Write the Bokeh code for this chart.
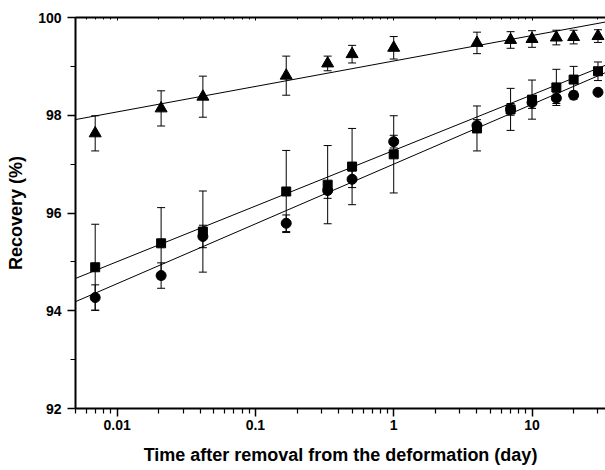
import numpy as np
from bokeh.plotting import figure
from bokeh.models import (ColumnDataSource, Whisker, TeeHead, LogAxis,
                          FixedTicker, CustomJSTickFormatter)
from bokeh.embed import file_html
from bokeh.resources import INLINE

# ---- data ----
time_day = [0.00694, 0.0208, 0.0417, 0.167, 0.333, 0.5, 1, 4, 7, 10, 15, 20, 30]

tri_vals = [97.63, 98.14, 98.38, 98.81, 99.06, 99.25, 99.38, 99.48, 99.54, 99.56, 99.59, 99.60, 99.62]
tri_err = [0.36, 0.36, 0.42, 0.40, 0.15, 0.18, 0.23, 0.22, 0.17, 0.17, 0.15, 0.14, 0.13]

sq_vals = [94.89, 95.38, 95.62, 96.44, 96.58, 96.95, 97.20, 97.73, 98.12, 98.32, 98.57, 98.73, 98.90]
sq_err = [0.88, 0.73, 0.83, 0.84, 0.80, 0.78, 0.79, 0.46, 0.43, 0.40, 0.37, 0.27, 0.19]

circ_vals = [94.27, 94.72, 95.52, 95.79, 96.46, 96.69, 97.46, 97.79, 98.12, 98.26, 98.35, 98.41, 98.47]
circ_err = [0.26, 0.26, 0.23, 0.17, 0.16, 0.17, 0.13, 0.12, 0.12, 0.12, 0.11, 0.08, 0.05]

# linear fits  y = a + b*log10(t)
fit_intercepts = [99.11, 97.28, 97.00]   # triangle, square, circle
fit_slopes = [0.521, 1.138, 1.223]
fit_span = [0.005, 34]

major_x = [0.01, 0.1, 1, 10]
y_major = [92, 94, 96, 98, 100]
y_minor = [93, 95, 97, 99]

FONT = "Liberation Sans"

p = figure(width=605, height=470, x_axis_type="log",
           x_range=(0.005, 34), y_range=(92, 100),
           output_backend="svg", toolbar_location=None,
           min_border_left=75, min_border_right=0,
           min_border_top=17, min_border_bottom=62)
p.outline_line_color = None
p.grid.visible = False
p.background_fill_color = "white"
p.border_fill_color = "white"

minor_x = [m * 10.0 ** e for e in range(-3, 2) for m in range(2, 10)]
fmt = CustomJSTickFormatter(code="return tick.toString();")

xa = p.xaxis[0]
xa.ticker = FixedTicker(ticks=major_x, minor_ticks=minor_x)
xa.formatter = fmt
xa.axis_label = "Time after removal from the deformation (day)"

ya = p.yaxis[0]
ya.ticker = FixedTicker(ticks=y_major, minor_ticks=y_minor)
ya.axis_label = "Recovery (%)"

for ax in (xa, ya):
    ax.axis_line_width = 2
    ax.major_tick_line_width = 1.5
    ax.minor_tick_line_width = 1.2
    ax.major_tick_out = 8
    ax.major_tick_in = 0
    ax.minor_tick_out = 5
    ax.minor_tick_in = 0
    ax.major_label_text_font = FONT
    ax.major_label_text_font_style = "bold"
    ax.major_label_text_font_size = "14px"
    ax.major_label_text_color = "black"
    ax.axis_label_text_font = FONT
    ax.axis_label_text_font_style = "bold"
    ax.axis_label_text_font_size = "18px"
    ax.axis_label_text_color = "black"
    ax.axis_line_color = "black"
    ax.major_tick_line_color = "black"
    ax.minor_tick_line_color = "black"

xa.major_label_standoff = 3
xa.axis_label_standoff = 12
ya.major_label_standoff = 6
ya.axis_label_standoff = 9

top = LogAxis(ticker=FixedTicker(ticks=major_x, minor_ticks=minor_x),
              formatter=CustomJSTickFormatter(code="return '';"),
              major_tick_in=3, major_tick_out=0, minor_tick_in=2, minor_tick_out=0,
              major_label_standoff=0, major_label_text_font_size="2px",
              axis_line_width=2, axis_line_color="black",
              major_tick_line_color="black", minor_tick_line_color="black")
p.add_layout(top, "above")

# fit lines
fx = np.array(fit_span, dtype=float)
for a, b in zip(fit_intercepts, fit_slopes):
    p.line(fx, a + b * np.log10(fx), line_color="black", line_width=1)

series = [
    (tri_vals, tri_err, "triangle", 12),
    (sq_vals, sq_err, "square", 9),
    (circ_vals, circ_err, "circle", 10),
]
for vals, err, marker, size in series:
    v = np.array(vals)
    e = np.array(err)
    src = ColumnDataSource(dict(x=time_day, y=v, upper=v + e, lower=v - e))
    w = Whisker(base="x", upper="upper", lower="lower", source=src,
                line_color="black", line_width=1,
                upper_head=TeeHead(size=8, line_width=1, line_color="black"),
                lower_head=TeeHead(size=8, line_width=1, line_color="black"),
                level="underlay")
    p.add_layout(w)
    p.scatter("x", "y", source=src, marker=marker, size=size,
              fill_color="black", line_color="black")

open("out.html", "w").write(file_html(p, INLINE))
